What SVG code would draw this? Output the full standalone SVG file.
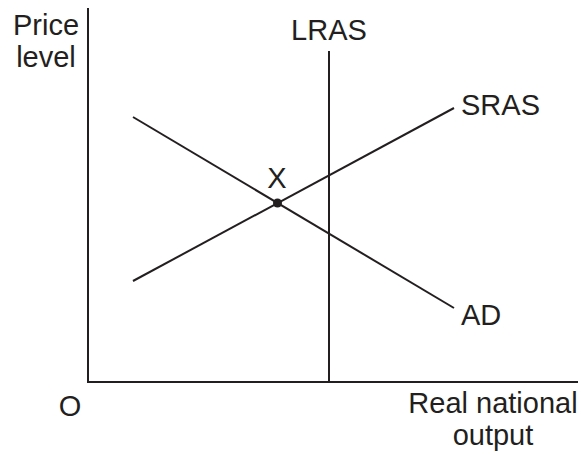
<svg xmlns="http://www.w3.org/2000/svg" width="581" height="455" viewBox="0 0 581 455">
<style>
.ln{stroke:#231f20;stroke-width:2;fill:none}
text{font-family:"Liberation Sans",Arial,sans-serif;font-size:29px;fill:#231f20}
</style>
<rect width="581" height="455" fill="#fff"/>
<g id="axes">
<path class="ln" d="M88,8 V382 H578"/>
</g>
<g id="connectors">
<line id="lras-line" class="ln" x1="329" y1="51" x2="329" y2="382"/>
<line id="sras-line" class="ln" x1="133" y1="281" x2="454" y2="108"/>
<line id="ad-line" class="ln" x1="133" y1="117" x2="454" y2="308"/>
</g>
<g id="point-x">
<circle cx="277.5" cy="203" r="4.5" fill="#231f20"/>
<text x="277" y="188" text-anchor="middle">X</text>
</g>
<g id="label-price"><text x="46" y="35" text-anchor="middle">Price</text><text x="46" y="67" text-anchor="middle">level</text></g>
<g id="label-lras"><text x="329" y="40" text-anchor="middle">LRAS</text></g>
<g id="label-sras"><text x="461" y="115">SRAS</text></g>
<g id="label-ad"><text x="461" y="325">AD</text></g>
<g id="label-o"><text x="70" y="416" text-anchor="middle">O</text></g>
<g id="label-output"><text x="493" y="413" text-anchor="middle">Real national</text><text x="493" y="445" text-anchor="middle">output</text></g>
</svg>
